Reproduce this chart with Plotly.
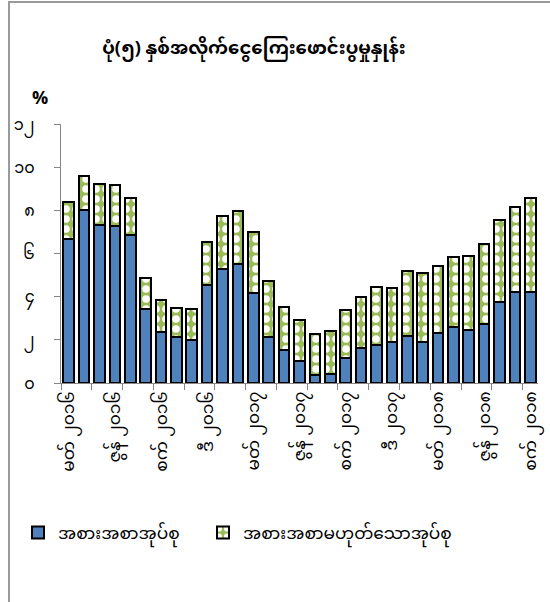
import plotly.graph_objects as go

# ---- data ----
months = [
    "မတ် ၂၀၁၆", "ဧပြီ ၂၀၁၆", "မေ ၂၀၁၆", "ဇွန် ၂၀၁၆", "ဇူ ၂၀၁၆", "ဩ ၂၀၁၆",
    "စက် ၂၀၁၆", "အောက် ၂၀၁၆", "နို ၂၀၁၆", "ဒီ ၂၀၁၆", "ဇန် ၂၀၁၇", "ဖေ ၂၀၁၇",
    "မတ် ၂၀၁၇", "ဧပြီ ၂၀၁၇", "မေ ၂၀၁၇", "ဇွန် ၂၀၁၇", "ဇူ ၂၀၁၇", "ဩ ၂၀၁၇",
    "စက် ၂၀၁၇", "အောက် ၂၀၁၇", "နို ၂၀၁၇", "ဒီ ၂၀၁၇", "ဇန် ၂၀၁၈", "ဖေ ၂၀၁၈",
    "မတ် ၂၀၁၈", "ဧပြီ ၂၀၁၈", "မေ ၂၀၁၈", "ဇွန် ၂၀၁၈", "ဇူ ၂၀၁၈", "ဩ ၂၀၁၈",
    "စက် ၂၀၁၈",
]
food = [6.67, 8.00, 7.32, 7.29, 6.86, 3.41, 2.38, 2.13, 1.99, 4.52, 5.28,
        5.53, 4.18, 2.13, 1.53, 1.04, 0.38, 0.41, 1.14, 1.62, 1.76, 1.88,
        2.19, 1.88, 2.30, 2.61, 2.47, 2.75, 3.77, 4.23, 4.23]
total = [8.37, 9.61, 9.24, 9.19, 8.56, 4.88, 3.86, 3.49, 3.44, 6.53, 7.72,
         7.97, 6.98, 4.73, 3.54, 2.90, 2.28, 2.39, 3.38, 3.98, 4.45, 4.42,
         5.20, 5.08, 5.40, 5.85, 5.90, 6.42, 7.54, 8.15, 8.56]
nonfood = [round(t - f, 2) for t, f in zip(total, food)]

ytick_vals = [0, 2, 4, 6, 8, 10, 12]
ytick_text = ["၀", "၂", "၄", "၆", "၈", "၁၀", "၁၂"]

title_text = "ပုံ(၅) နှစ်အလိုက်ငွေကြေးဖောင်းပွမှုနှုန်း"
series_names = ["အစားအစာအုပ်စု", "အစားအစာမဟုတ်သောအုပ်စု"]

FONT = "Noto Sans Myanmar, Padauk, Myanmar Text, Noto Sans, DejaVu Sans, sans-serif"

n = len(months)
xpos = list(range(n))

fig = go.Figure()
fig.add_trace(go.Bar(
    x=xpos, y=food, name=series_names[0], legend="legend",
    marker=dict(color="#4F81BD", line=dict(color="#000000", width=2)),
))
fig.add_trace(go.Bar(
    x=xpos, y=nonfood, name=series_names[1], legend="legend2",
    marker=dict(color="#9BBB59", line=dict(color="#000000", width=2),
                pattern=dict(shape=".", fgcolor="#FFFFFF", bgcolor="#9BBB59",
                             size=10, solidity=0.45, fillmode="replace")),
))
# invisible helper trace for the label axis
fig.add_trace(go.Scatter(x=xpos, y=food, xaxis="x2", mode="markers",
                         marker=dict(opacity=0), showlegend=False, hoverinfo="skip"))

boundary_ticks = [i - 0.5 for i in range(0, n + 1, 2)]
label_idx = list(range(0, n, 3))

legend_common = dict(orientation="h", xanchor="left", y=(383 - 533) / 259,
                     yanchor="middle", font=dict(size=17, family=FONT, color="#000000"),
                     itemwidth=30, bgcolor="rgba(0,0,0,0)")

fig.update_layout(
    width=550, height=602,
    margin=dict(l=61, r=12, t=124, b=219),
    paper_bgcolor="white", plot_bgcolor="white",
    barmode="stack", bargap=0.31,
    font=dict(family=FONT, size=14, color="#000000"),
    title=dict(text="<b>" + title_text + "</b>", x=254 / 550, xref="container",
               y=1 - 48 / 602, yref="container", xanchor="center", yanchor="middle",
               font=dict(size=18, family=FONT, color="#000000"), automargin=False),
    xaxis=dict(range=[-0.5, n - 0.5], tickvals=boundary_ticks, showticklabels=False,
               ticks="outside", ticklen=6, tickcolor="#868686", tickwidth=1,
               showline=True, linecolor="#868686", linewidth=1.3,
               showgrid=False, zeroline=False, automargin=False),
    xaxis2=dict(range=[-0.5, n - 0.5], overlaying="x", side="bottom",
                tickvals=label_idx, ticktext=[months[i] for i in label_idx],
                tickangle=-90, ticks="", showline=False, showgrid=False, zeroline=False,
                automargin=False, ticklabelstandoff=4, ticklabeloverflow="allow",
                tickfont=dict(size=17, family=FONT, color="#000000")),
    yaxis=dict(range=[0, 12], tickvals=ytick_vals, ticktext=ytick_text,
               ticks="outside", ticklen=6, tickcolor="#868686", tickwidth=1,
               showline=True, linecolor="#868686", linewidth=1.3,
               showgrid=False, zeroline=False, ticklabelstandoff=16, automargin=False,
               tickfont=dict(size=16, family=FONT, color="#000000")),
    legend=dict(x=(18 - 61) / 477, **legend_common),
    legend2=dict(x=(203 - 61) / 477, **legend_common),
    showlegend=True,
    annotations=[dict(text="<b>%</b>", x=(40 - 61) / 477, y=(383 - 100) / 259,
                      xref="paper", yref="paper", showarrow=False,
                      xanchor="center", yanchor="middle",
                      font=dict(size=18, family=FONT, color="#000000"))],
    shapes=[dict(type="rect", xref="paper", yref="paper",
                 x0=(9 - 61) / 477, x1=(600 - 61) / 477,
                 y0=(383 - 650) / 259, y1=(383 - 2) / 259,
                 line=dict(color="#9A9A9A", width=2), fillcolor="rgba(0,0,0,0)",
                 layer="below")],
)

fig.write_html("out.html", config={"displayModeBar": False},
               post_script="document.body.style.margin='0px';document.body.style.padding='0px';")
